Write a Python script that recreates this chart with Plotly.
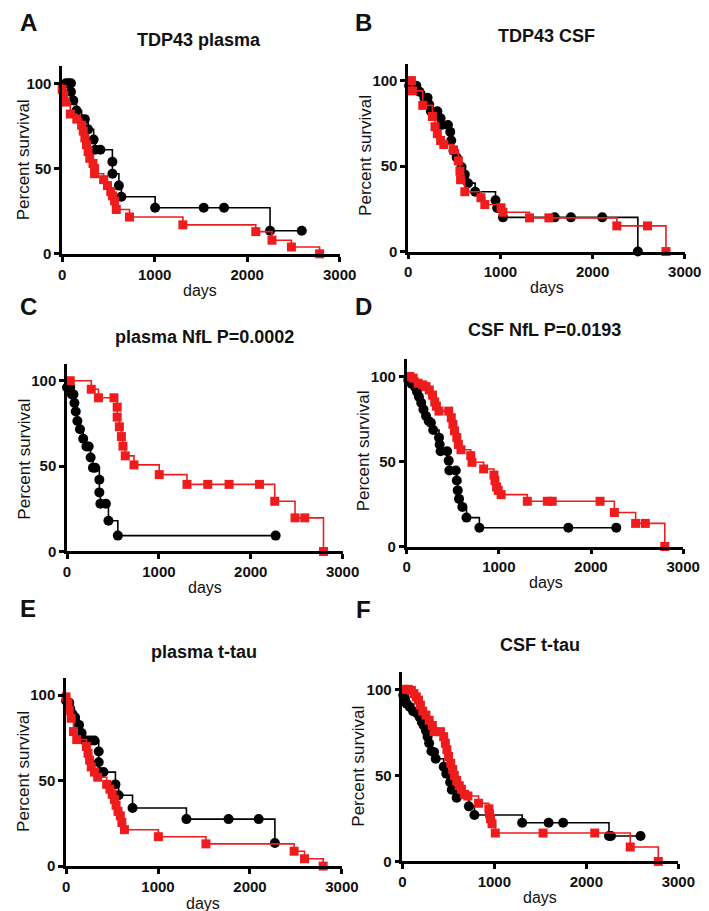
import plotly.graph_objects as go

W, H = 709, 911

# ---- data: days and percent survival at each marker ----
A_BLACK_DAYS = [40, 70, 95, 95, 120, 155, 210, 245, 280, 340, 357, 413, 543, 543, 613, 640, 1005, 1530, 1750, 2247, 2590]
A_BLACK_SURV = [100, 100, 100, 95, 90, 84, 79, 79, 73, 67, 61, 61, 54, 47, 40, 33.5, 27, 27, 27, 13.5, 13.5]
A_RED_DAYS = [0, 17, 35, 88, 158, 210, 228, 245, 263, 280, 298, 333, 350, 350, 448, 490, 525, 543, 567, 585, 728, 1305, 2093, 2268, 2478, 2783]
A_RED_SURV = [96.5, 93, 89, 82, 79, 75.5, 72, 68, 64, 60, 56, 53, 50, 47, 43.5, 40, 36.5, 34, 31, 26, 21.6, 17, 13, 8, 4, 0]

B_BLACK_DAYS = [10, 53, 88, 123, 175, 210, 228, 246, 316, 351, 361, 431, 456, 467, 491, 526, 579, 614, 649, 726, 947, 965, 1028, 1589, 1765, 2105, 2491]
B_BLACK_SURV = [97, 97, 97, 93.5, 90, 90, 86, 82, 82, 78, 74, 74, 70, 65, 59, 55, 49.5, 45, 40, 35, 30, 25.5, 20, 20, 20, 20, 0]
B_RED_DAYS = [35, 46, 158, 263, 291, 316, 351, 386, 491, 544, 561, 568, 614, 789, 831, 1007, 1028, 1316, 1526, 2263, 2596, 2796]
B_RED_SURV = [100, 94, 85.5, 79, 73, 69, 65, 62.6, 59.5, 53, 47, 42, 35, 31.5, 27.5, 25.6, 23, 19.7, 19.7, 15, 15, 0]

C_BLACK_DAYS = [0, 35, 53, 70, 81, 95, 113, 141, 176, 211, 236, 257, 282, 306, 352, 352, 363, 423, 451, 553, 2271]
C_BLACK_SURV = [96, 96, 92, 92, 87, 82, 76.4, 71.6, 66, 61.5, 61.5, 55, 49, 49, 42, 34.6, 28, 28, 18, 9.3, 9.3]
C_RED_DAYS = [35, 264, 342, 511, 546, 546, 570, 592, 609, 634, 729, 1004, 1306, 1532, 1764, 2095, 2261, 2482, 2588, 2792]
C_RED_SURV = [100, 95, 90, 90, 84.5, 78.7, 73, 67.3, 61.7, 56, 50.7, 45, 39.3, 39.3, 39.3, 39.3, 29.4, 19.7, 19.7, 0]

D_BLACK_DAYS = [18, 53, 88, 112, 133, 158, 182, 210, 239, 263, 288, 351, 358, 368, 439, 456, 463, 533, 544, 554, 568, 604, 649, 789, 1754, 2274]
D_BLACK_SURV = [97.7, 95.7, 94, 91, 88, 84.5, 80.6, 76.7, 73.8, 72.8, 68.5, 64, 60, 56, 56, 50.5, 44.7, 44.7, 38.8, 33, 28, 23.3, 17, 11, 11, 11]
D_RED_DAYS = [35, 70, 123, 175, 210, 246, 281, 305, 323, 351, 456, 484, 502, 519, 544, 561, 589, 695, 709, 835, 947, 958, 975, 993, 1025, 1309, 1526, 1579, 2098, 2253, 2484, 2589, 2800]
D_RED_SURV = [100, 99, 96, 95, 94, 92, 89, 85, 82.5, 79.6, 79.6, 75.7, 71.8, 68, 64, 60, 56.9, 53.4, 49.5, 45.6, 42, 38.8, 35, 33, 30.5, 26.6, 26.6, 26.6, 26.6, 20, 13.6, 13.6, 0]

E_BLACK_DAYS = [0, 35, 46, 70, 98, 141, 169, 204, 239, 274, 309, 355, 355, 362, 407, 537, 572, 723, 1309, 1767, 2095, 2271]
E_BLACK_SURV = [96.7, 95.5, 92, 89, 87, 82.6, 77.8, 73.5, 73.5, 73.5, 73.5, 67, 60.7, 55, 55, 47.8, 41.4, 34, 27.5, 27.5, 27.5, 13.5]
E_RED_DAYS = [0, 21, 35, 56, 81, 116, 221, 239, 256, 274, 309, 344, 442, 477, 502, 526, 544, 565, 590, 607, 635, 1004, 1521, 2480, 2593, 2796]
E_RED_SURV = [99, 95.5, 91, 86.5, 78.7, 74, 70, 66, 62, 58, 55, 52, 47.8, 45, 42, 39, 35.6, 32, 29.4, 25.5, 21.3, 17.2, 13, 8.7, 4.3, 0]

F_BLACK_DAYS = [10, 28, 46, 81, 116, 161, 186, 211, 232, 256, 274, 291, 316, 344, 362, 449, 477, 519, 537, 590, 723, 783, 1302, 1589, 1747, 2246, 2267, 2589]
F_BLACK_SURV = [96.5, 94.6, 91.7, 89.8, 87.3, 86, 84, 81, 79, 76, 72.5, 68.7, 64, 63.5, 59.7, 55, 50.9, 46, 41.6, 37, 32, 27, 22.5, 22.5, 22.5, 14.8, 14.8, 14.8]
F_RED_DAYS = [21, 63, 98, 126, 151, 175, 196, 221, 256, 291, 326, 344, 414, 449, 467, 484, 502, 526, 547, 565, 590, 618, 642, 677, 712, 828, 940, 947, 958, 975, 1010, 1530, 2091, 2477, 2782]
F_RED_SURV = [100, 100, 99.4, 97.5, 95.6, 93.7, 90.8, 87.3, 85, 82, 79, 75.4, 75.4, 72.5, 68.7, 64.9, 61, 57, 53.4, 50, 47, 44, 42, 39, 38, 33.8, 30.6, 27.7, 24.8, 21.9, 16.5, 16.5, 16.5, 8.4, 0]

TITLES = ["TDP43 plasma", "TDP43 CSF", "plasma NfL P=0.0002", "CSF NfL P=0.0193", "plasma t-tau", "CSF t-tau"]
LETTERS = ["A", "B", "C", "D", "E", "F"]
X_TICKS = [0, 1000, 2000, 3000]
Y_TICKS = [0, 50, 100]

panels = [
    (A_BLACK_DAYS, A_BLACK_SURV, A_RED_DAYS, A_RED_SURV),
    (B_BLACK_DAYS, B_BLACK_SURV, B_RED_DAYS, B_RED_SURV),
    (C_BLACK_DAYS, C_BLACK_SURV, C_RED_DAYS, C_RED_SURV),
    (D_BLACK_DAYS, D_BLACK_SURV, D_RED_DAYS, D_RED_SURV),
    (E_BLACK_DAYS, E_BLACK_SURV, E_RED_DAYS, E_RED_SURV),
    (F_BLACK_DAYS, F_BLACK_SURV, F_RED_DAYS, F_RED_SURV),
]

# pixel boxes of each plot area: left, right, top (y=110), bottom (y=0)
boxes = [
    (51.7, 337.7, 58.8, 248.0),
    (408.3, 693.3, 56.0, 245.7),
    (56.7, 340.7, 358.8, 548.3),
    (406.7, 691.7, 354.5, 543.3),
    (55.7, 340.0, 676.0, 865.7),
    (402.3, 686.7, 670.0, 861.0),
]
# text positions in pixels: letter, title, y-label, x-label
letter_pos = [(17, 15), (362, 15), (17, 301), (362, 301), (17, 606), (362, 607)]
title_pos = [(193, 32), (551, 28), (198, 332), (549, 325), (198, 650), (544, 643)]
ylab_pos = [(12, 153), (364, 149), (12, 455), (362, 447), (12, 770), (357, 765)]
xlab_pos = [(194, 285), (551, 282), (199, 585), (550, 580), (197, 903), (544, 897)]

RED = "#ee1c1c"
FONT = "Liberation Sans, Arial, sans-serif"


def px(x, y):
    return x / W, 1 - y / H


fig = go.Figure()
annotations = []

for i, (bd, bs, rd, rs) in enumerate(panels):
    n = "" if i == 0 else str(i + 1)
    xa, ya = "x" + n, "y" + n
    for days, surv, color, symbol, size in [(bd, bs, "black", "circle", 10), (rd, rs, RED, "square", 9)]:
        # first point is the (0, 100) start of the curve, drawn without a marker
        fig.add_trace(go.Scatter(
            x=[0] + days, y=[100] + surv, mode="lines+markers", line_shape="hv",
            line=dict(color=color, width=1.6),
            marker=dict(color=color, symbol=symbol, size=[0] + [size] * len(days),
                        opacity=1, line=dict(width=0)),
            cliponaxis=False, showlegend=False, xaxis=xa, yaxis=ya,
        ))

    left, right, top, bottom = boxes[i]
    axis_style = dict(showline=True, linewidth=2.5, linecolor="black", ticks="outside",
                      ticklen=5, tickwidth=2.5, tickcolor="black", showgrid=False, zeroline=False,
                      tickfont=dict(family=FONT, size=15, color="#111", weight="bold"))
    fig.update_layout(**{
        "xaxis" + n: dict(domain=[left / W, right / W], range=[0, 3000], tickvals=X_TICKS,
                          anchor=ya, **axis_style),
        "yaxis" + n: dict(domain=[1 - bottom / H, 1 - top / H], range=[0, 110], tickvals=Y_TICKS,
                          anchor=xa, **axis_style),
    })

    lx, ly = px(*letter_pos[i])
    annotations.append(dict(x=lx, y=ly, text="<b>" + LETTERS[i] + "</b>", font=dict(size=24)))
    tx, ty = px(*title_pos[i])
    annotations.append(dict(x=tx, y=ty, text="<b>" + TITLES[i] + "</b>", font=dict(size=18)))
    yx, yy = px(*ylab_pos[i])
    annotations.append(dict(x=yx, y=yy, text="Percent survival", textangle=-90, font=dict(size=17)))
    dx, dy = px(*xlab_pos[i])
    annotations.append(dict(x=dx, y=dy, text="days", font=dict(size=16)))

for a in annotations:
    a.update(xref="paper", yref="paper", showarrow=False, xanchor="center", yanchor="middle")
    a["font"].update(family=FONT, color="#111")

fig.update_layout(
    width=W, height=H, margin=dict(l=0, r=0, t=0, b=0),
    paper_bgcolor="white", plot_bgcolor="white",
    annotations=annotations,
)

fig.write_html("out.html")
